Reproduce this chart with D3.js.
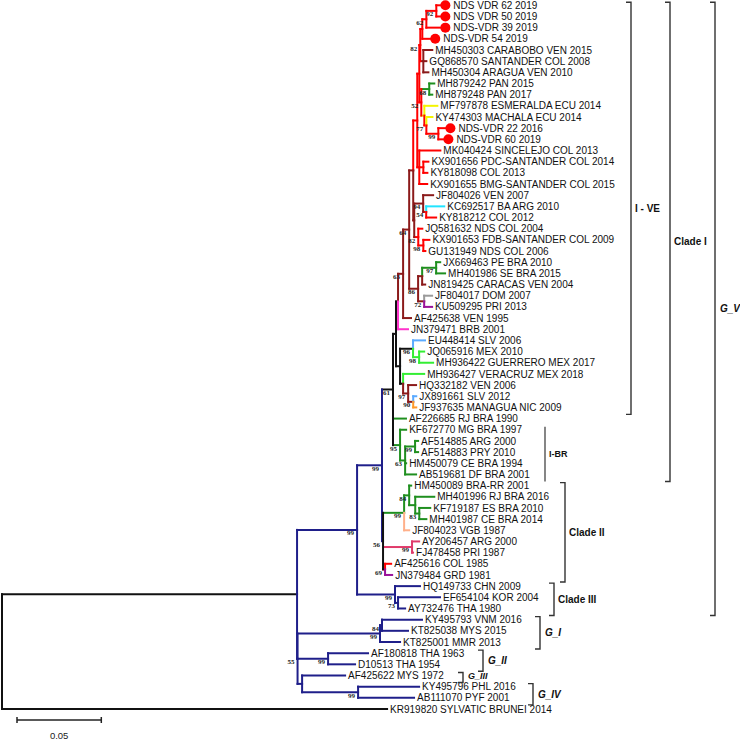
<!DOCTYPE html>
<html><head><meta charset="utf-8">
<script src="https://cdn.jsdelivr.net/npm/d3@7"></script>
<style>html,body{margin:0;padding:0;background:#fff;}svg{display:block;}</style>
</head><body><svg id="chart" width="740" height="740"></svg>
<script>
// ---------------- DATA ----------------
// tree edges: [node, parent, branch length (substitutions/site)]
const edges = [
 ["root","",0],
 ["A","root",0.1750],
 ["GV","A",0.0356],
 ["X","GV",0.0148],
 ["CI","X",0.0065],
 ["U","CI",0.0018],
 ["T","U",0.0012],
 ["L","T",0.0030],
 ["Lp","L",0.0036],
 ["B1","Lp",0.0024],
 ["Rtop","B1",0.0024],
 ["N5","Rtop",0.0012],
 ["N4","N5",0.0006],
 ["N3","N4",0.0012],
 ["N2","N3",0.0024],
 ["N1","N2",0.0059],
 ["NDS VDR 62 2019","N1",0.0024],
 ["NDS VDR 50 2019","N1",0.0024],
 ["NDS-VDR 39 2019","N2",0.0083],
 ["NDS-VDR 54 2019","N3",0.0047],
 ["BRn","N4",0.0018],
 ["MH450303 CARABOBO VEN 2015","BRn",0.0053],
 ["GQ868570 SANTANDER COL 2008","BRn",0.0018],
 ["MH450304 ARAGUA VEN 2010","BRn",0.0030],
 ["W","N5",0.0012],
 ["G1","W",0.0047],
 ["MH879242 PAN 2015","G1",0.0030],
 ["MH879248 PAN 2017","G1",0.0018],
 ["Z","W",0.0018],
 ["MF797878 ESMERALDA ECU 2014","Z",0.0077],
 ["Y","Z",0.0012],
 ["KY474303 MACHALA ECU 2014","Y",0.0036],
 ["R2260","Y",0.0071],
 ["NDS-VDR 22 2016","R2260",0.0042],
 ["NDS-VDR 60 2019","R2260",0.0030],
 ["Q","Rtop",0.0012],
 ["MK040424 SINCELEJO COL 2013","Q",0.0125],
 ["P","Q",0.0024],
 ["KX901656 PDC-SANTANDER COL 2014","P",0.0030],
 ["KY818098 COL 2013","P",0.0024],
 ["KX901655 BMG-SANTANDER COL 2015","Q",0.0047],
 ["B2","B1",0.0006],
 ["S2","B2",0.0053],
 ["JF804026 VEN 2007","S2",0.0059],
 ["S1","S2",0.0018],
 ["KC692517 BA ARG 2010","S1",0.0107],
 ["KY818212 COL 2012","S1",0.0059],
 ["JQ2","B2",0.0024],
 ["JQ581632 NDS COL 2004","JQ2",0.0024],
 ["JQ1","JQ2",0.0030],
 ["KX901653 FDB-SANTANDER COL 2009","JQ1",0.0036],
 ["GU131949 NDS COL 2006","JQ1",0.0012],
 ["J3","Lp",0.0053],
 ["J2","J3",0.0024],
 ["J1","J2",0.0083],
 ["JX669463 PE BRA 2010","J1",0.0024],
 ["MH401986 SE BRA 2015","J1",0.0053],
 ["JN819425 CARACAS VEN 2004","J2",0.0018],
 ["K1","J3",0.0036],
 ["JF804017 DOM 2007","K1",0.0047],
 ["KU509295 PRI 2013","K1",0.0047],
 ["AF425638 VEN 1995","L",0.0047],
 ["JN379471 BRB 2001","T",0.0059],
 ["V","U",0.0024],
 ["MX2","V",0.0077],
 ["EU448414 SLV 2006","MX2",0.0071],
 ["MX1","MX2",0.0036],
 ["JQ065916 MEX 2010","MX1",0.0030],
 ["MH936422 GUERRERO MEX 2017","MX1",0.0083],
 ["H3","V",0.0018],
 ["MH936427 VERACRUZ MEX 2018","H3",0.0125],
 ["H2","H3",0.0030],
 ["HQ332182 VEN 2006","H2",0.0047],
 ["H1","H2",0.0030],
 ["JX891661 SLV 2012","H1",0.0018],
 ["JF937635 MANAGUA NIC 2009","H1",0.0018],
 ["AF226685 RJ BRA 1990","CI",0.0077],
 ["BR3","CI",0.0042],
 ["KF672770 MG BRA 1997","BR3",0.0036],
 ["BR2","BR3",0.0030],
 ["BR1","BR2",0.0059],
 ["AF514885 ARG 2000","BR1",0.0018],
 ["AF514883 PRY 2010","BR1",0.0018],
 ["HM450079 CE BRA 1994","BR2",0.0006],
 ["AB519681 DF BRA 2001","BR2",0.0065],
 ["C5","X",0.0006],
 ["C2","C5",0.0125],
 ["C1","C2",0.0030],
 ["HM450089 BRA-RR 2001","C1",0.0012],
 ["C1a","C1",0.0036],
 ["MH401996 RJ BRA 2016","C1a",0.0113],
 ["C1b","C1a",0.0024],
 ["KF719187 ES BRA 2010","C1b",0.0065],
 ["MH401987 CE BRA 2014","C1b",0.0042],
 ["JF804023 VGB 1987","C2",0.0030],
 ["C3","C5",0.0172],
 ["AY206457 ARG 2000","C3",0.0042],
 ["FJ478458 PRI 1987","C3",0.0006],
 ["C4","C5",0.0012],
 ["AF425616 COL 1985","C4",0.0036],
 ["JN379484 GRD 1981","C4",0.0042],
 ["CIII","GV",0.0225],
 ["HQ149733 CHN 2009","CIII",0.0148],
 ["C3a","CIII",0.0018],
 ["EF654104 KOR 2004","C3a",0.0249],
 ["AY732476 THA 1980","C3a",0.0042],
 ["B","A",0.0003],
 ["GI","B",0.0489],
 ["GIa","GI",0.0012],
 ["KY495793 VNM 2016","GIa",0.0237],
 ["KT825038 MYS 2015","GIa",0.0154],
 ["KT825001 MMR 2013","GI",0.0119],
 ["GII","B",0.0181],
 ["AF180818 THA 1963","GII",0.0237],
 ["D10513 THA 1954","GII",0.0160],
 ["C","B",0.0027],
 ["AF425622 MYS 1972","C",0.0255],
 ["GIV","C",0.0332],
 ["KY495796 PHL 2016","GIV",0.0362],
 ["AB111070 PYF 2001","GIV",0.0332],
 ["KR919820 SYLVATIC BRUNEI 2014","root",0.2284]
];

// bootstrap support (%)
const support = [["N1",92],["N2",62],["N4",82],["G1",68],["W",52],["Y",77],["R2260",99],
 ["S2",94],["S1",54],["Lp",64],["JQ2",82],["JQ1",98],["J1",97],["L",63],["J3",86],["K1",72],
 ["MX2",96],["MX1",98],["H2",97],["H1",90],["CI",61],["BR1",99],["BR3",95],["BR2",63],
 ["X",99],["C1",84],["C2",99],["C1b",83],["C5",56],["C3",99],["C4",69],["GV",99],
 ["CIII",99],["C3a",73],["GIa",84],["GI",99],["GII",99],["B",55],["GIV",99]];

// lineage (branch colour group) of each node
const lineages = [
 ["black",["root","A","KR919820 SYLVATIC BRUNEI 2014","CI","U","T","V","MX2","H3","C5"]],
 ["red",["Rtop","N5","N4","N3","N2","N1","NDS VDR 62 2019","NDS VDR 50 2019","NDS-VDR 39 2019",
   "NDS-VDR 54 2019","W","Y","R2260","NDS-VDR 22 2016","NDS-VDR 60 2019","Q","P",
   "MK040424 SINCELEJO COL 2013","KX901656 PDC-SANTANDER COL 2014","KY818098 COL 2013",
   "KX901655 BMG-SANTANDER COL 2015","S1","KY818212 COL 2012","JQ2","JQ1","JQ581632 NDS COL 2004",
   "KX901653 FDB-SANTANDER COL 2009","GU131949 NDS COL 2006","AF425616 COL 1985","C4"]],
 ["brown",["B1","B2","S2","JF804026 VEN 2007","BRn","MH450303 CARABOBO VEN 2015",
   "GQ868570 SANTANDER COL 2008","MH450304 ARAGUA VEN 2010","Lp","L","J3","J2",
   "JN819425 CARACAS VEN 2004","K1","AF425638 VEN 1995","H2","HQ332182 VEN 2006","H1"]],
 ["green",["G1","MH879242 PAN 2015","MH879248 PAN 2017","J1","JX669463 PE BRA 2010",
   "MH401986 SE BRA 2015","AF226685 RJ BRA 1990","BR3","KF672770 MG BRA 1997","BR2","BR1",
   "AF514885 ARG 2000","AF514883 PRY 2010","HM450079 CE BRA 1994","AB519681 DF BRA 2001",
   "C2","C1","HM450089 BRA-RR 2001","C1a","MH401996 RJ BRA 2016","C1b","KF719187 ES BRA 2010",
   "MH401987 CE BRA 2014"]],
 ["yellow",["Z","MF797878 ESMERALDA ECU 2014","KY474303 MACHALA ECU 2014"]],
 ["cyan",["KC692517 BA ARG 2010"]],
 ["lightblue",["EU448414 SLV 2006","JX891661 SLV 2012"]],
 ["lime",["MX1","JQ065916 MEX 2010","MH936422 GUERRERO MEX 2017","MH936427 VERACRUZ MEX 2018"]],
 ["orange",["JF937635 MANAGUA NIC 2009"]],
 ["gray",["JF804017 DOM 2007"]],
 ["purple",["KU509295 PRI 2013","JN379484 GRD 1981"]],
 ["magenta",["JN379471 BRB 2001"]],
 ["salmon",["JF804023 VGB 1987"]],
 ["crimson",["C3","AY206457 ARG 2000","FJ478458 PRI 1987"]]
]; // everything else: navy

// nodes whose vertical connector takes each child's colour
const splitNodes = ["Z","Y","B1","S1","J2","K1","T","MX2","H3","H1","C4","C2"];
// nodes whose vertical connector has its own lineage
const connectorLineage = [["A","navy"]];

// study samples (marked with a dot)
const studySamples = ["NDS VDR 62 2019","NDS VDR 50 2019","NDS-VDR 39 2019","NDS-VDR 54 2019",
 "NDS-VDR 22 2016","NDS-VDR 60 2019"];

// clade brackets: [label, first leaf, last leaf, kind]
const clades = [
 ["I - VE","NDS VDR 62 2019","JF937635 MANAGUA NIC 2009","clade"],
 ["Clade I","NDS VDR 62 2019","AB519681 DF BRA 2001","clade"],
 ["G_V","NDS VDR 62 2019","AY732476 THA 1980","genotype"],
 ["I-BR","KF672770 MG BRA 1997","AB519681 DF BRA 2001","plain"],
 ["Clade II","HM450089 BRA-RR 2001","JN379484 GRD 1981","clade"],
 ["Clade III","HQ149733 CHN 2009","AY732476 THA 1980","clade"],
 ["G_I","KY495793 VNM 2016","KT825001 MMR 2013","genotype"],
 ["G_II","AF180818 THA 1963","D10513 THA 1954","genotype"],
 ["G_III","AF425622 MYS 1972","AF425622 MYS 1972","genotype"],
 ["G_IV","KY495796 PHL 2016","AB111070 PYF 2001","genotype"]
];
const scaleBarValue = 0.05;

// ---------------- STYLE / LAYOUT ----------------
const palette = {black:"#111111",red:"#ff0000",brown:"#8b1a1a",green:"#1f8f1f",yellow:"#f4f400",
 cyan:"#22e4ff",lightblue:"#5aaaff",lime:"#33ee33",orange:"#ff9a2a",gray:"#9a9a9a",purple:"#99119a",
 magenta:"#ff33cc",salmon:"#ffb08a",crimson:"#e03a6a",navy:"#1f1f8a"};
const bracketX = {"I - VE":631,"Clade I":670,"G_V":715,"I-BR":545,"Clade II":565,"Clade III":554,
 "G_I":540,"G_II":483,"G_III":463,"G_IV":533};
const labelShift = {"G_III":-2};
const LW = 2;

const svg = d3.select("#chart");
const lin = new Map();
lineages.forEach(([k, arr]) => arr.forEach(id => lin.set(id, k)));
const colorOf = id => palette[lin.get(id) || "navy"];
const vconn = new Map(connectorLineage);

const root = d3.stratify().id(d => d[0]).parentId(d => d[1])(edges);
root.eachBefore(n => { n.dist = n.parent ? n.parent.dist + n.data[2] : 0; });
const leaves = root.leaves();
const yS = d3.scalePoint().domain(leaves.map(d => d.id)).range([5.3, 709]);
const xS = d3.scaleLinear().domain([0, scaleBarValue]).range([2, 2 + 84.3]);
root.eachAfter(n => {
  n.py = n.children ? (n.children[0].py + n.children[n.children.length - 1].py) / 2 : yS(n.id);
  n.px = xS(n.dist);
});

const gTree = svg.append("g").attr("fill","none").attr("stroke-width",LW).attr("stroke-linecap","square");
// horizontal branches
gTree.selectAll("line.h").data(root.descendants().filter(n => n.parent)).join("line")
  .attr("class","h")
  .attr("x1", n => n.parent.px).attr("x2", n => n.px)
  .attr("y1", n => n.py).attr("y2", n => n.py)
  .attr("stroke", n => colorOf(n.id));
// vertical connectors
const internal = root.descendants().filter(n => n.children);
internal.forEach(n => {
  if (splitNodes.includes(n.id)) {
    n.children.forEach(c => {
      gTree.append("line").attr("x1", n.px).attr("x2", n.px).attr("y1", n.py).attr("y2", c.py)
        .attr("stroke", colorOf(c.id));
    });
  } else {
    const col = vconn.has(n.id) ? palette[vconn.get(n.id)] : colorOf(n.id);
    gTree.append("line").attr("x1", n.px).attr("x2", n.px)
      .attr("y1", n.children[0].py).attr("y2", n.children[n.children.length - 1].py)
      .attr("stroke", col);
  }
});

// study sample dots
const dotSet = new Set(studySamples);
svg.selectAll("circle.dot").data(leaves.filter(l => dotSet.has(l.id))).join("circle")
  .attr("cx", d => d.px + 5).attr("cy", d => d.py).attr("r", 5).attr("fill", "#ff0000");

// leaf labels
svg.append("g").selectAll("text").data(leaves).join("text")
  .attr("x", d => d.px + (dotSet.has(d.id) ? 13 : 3))
  .attr("y", d => d.py).attr("dy","0.36em")
  .attr("font-family","'Liberation Sans', Arial, sans-serif").attr("font-size", 10)
  .attr("fill","#111").text(d => d.id);

// bootstrap values
const nodeById = new Map(root.descendants().map(n => [n.id, n]));
svg.append("g").selectAll("text").data(support).join("text")
  .attr("x", d => nodeById.get(d[0]).px - 3)
  .attr("y", d => nodeById.get(d[0]).py + 3).attr("dy","0.35em")
  .attr("text-anchor","end")
  .attr("font-family","'Liberation Serif', 'Times New Roman', serif").attr("font-size", 7)
  .attr("font-weight","bold").attr("fill","#222").text(d => d[1]);

// clade brackets
const gB = svg.append("g");
clades.forEach(([label, first, last, kind]) => {
  const bx = bracketX[label];
  const y1 = yS(first) - 3, y2 = yS(last) + 7;
  if (kind === "plain") {
    gB.append("line").attr("x1",bx).attr("x2",bx).attr("y1",y1).attr("y2",y2)
      .attr("stroke","#444").attr("stroke-width",1.3);
  } else {
    gB.append("path").attr("d", `M${bx-5},${y1}H${bx}V${y2}H${bx-5}`)
      .attr("fill","none").attr("stroke","#333").attr("stroke-width",1.4);
  }
  gB.append("text").attr("x", bx + (kind === "genotype" ? 5 : 4))
    .attr("y",(y1 + y2) / 2 + (labelShift[label] || 0)).attr("dy","0.35em")
    .attr("font-family","'Liberation Sans', Arial, sans-serif")
    .attr("font-size", kind === "genotype" ? (label === "G_III" ? 9 : 10) : (kind === "plain" ? 9 : 10))
    .attr("font-weight","bold").attr("font-style", kind === "genotype" ? "italic" : "normal")
    .attr("fill","#111").text(label);
});

// scale bar
const sbx0 = 17, sbLen = xS(scaleBarValue) - xS(0), sby = 720;
const gS = svg.append("g").attr("stroke","#222").attr("stroke-width",1.5);
gS.append("line").attr("x1",sbx0).attr("x2",sbx0 + sbLen).attr("y1",sby).attr("y2",sby);
gS.append("line").attr("x1",sbx0).attr("x2",sbx0).attr("y1",sby-3).attr("y2",sby+3);
gS.append("line").attr("x1",sbx0+sbLen).attr("x2",sbx0+sbLen).attr("y1",sby-3).attr("y2",sby+3);
svg.append("text").attr("x", sbx0 + sbLen / 2).attr("y", 739).attr("text-anchor","middle")
  .attr("font-family","'Liberation Sans', Arial, sans-serif").attr("font-size", 9.5)
  .attr("fill","#222").text(scaleBarValue);
</script></body></html>
